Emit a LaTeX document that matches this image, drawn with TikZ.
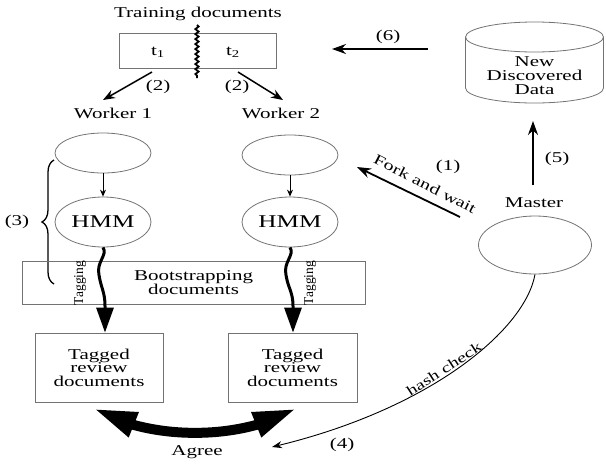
\documentclass[tikz,border=0pt]{standalone}
\usepackage{fontspec}
\setmainfont{Liberation Serif}[FakeStretch=1.4]
\newfontfamily\rotfont{Liberation Serif}
\usetikzlibrary{arrows.meta,bending,shapes.geometric,decorations.pathmorphing,decorations.pathreplacing}
\begin{document}
\begin{tikzpicture}[x=1pt,y=-1pt,
  box/.style={draw=black!55, line width=0.8pt, rectangle, inner sep=0pt, align=center, font=\fontsize{15}{13.5}\selectfont},
  oval/.style={draw=black!55, line width=0.8pt, ellipse, inner sep=0pt, minimum width=96pt, minimum height=40pt},
  lbl/.style={font=\fontsize{15}{14}\selectfont, inner sep=0pt},
  arr/.style={line width=1.8pt, -{Stealth[length=14pt,width=10pt]}},
  arrtwo/.style={line width=1.5pt, -{Stealth[length=12pt,width=9pt]}},
  arrsmall/.style={line width=0.9pt, -{Stealth[length=7pt,width=6pt]}},
  wavy/.style={line width=3pt, -{Triangle[length=25pt,width=17pt]}},
  rotlbl/.style={font=\rotfont\fontsize{13.5}{14}\selectfont, inner sep=0pt, rotate=90}
]
\useasboundingbox (0,0) rectangle (606,464);

% training documents
\node[lbl] (title) at (198,14) {Training documents};
\node[box, minimum width=157pt, minimum height=35pt] (train) at (197.5,50.5) {};
\node[lbl] (t1) at (158,52) {t\textsubscript{1}};
\node[lbl] (t2) at (233,52) {t\textsubscript{2}};
\draw[decorate, decoration={snake, segment length=5pt, amplitude=1.6pt}, line width=1.8pt] (197,25) -- (197,78);

% workers
\node[lbl] (w1) at (113,113) {Worker 1};
\node[lbl] (w2) at (281,113) {Worker 2};
\coordinate (a1s) at (152,72); \coordinate (a1e) at (103,100);
\coordinate (a2s) at (238,72); \coordinate (a2e) at (283,100);
\draw[arrtwo] (a1s) -- (a1e);
\draw[arrtwo] (a2s) -- (a2e);
\node[lbl] at (158,87) {(2)};
\node[lbl] at (237,87) {(2)};

\node[oval] (e1) at (103,153) {};
\node[oval] (e2) at (290,155) {};
\node[oval, minimum height=50pt, font=\fontsize{18}{18}\selectfont] (h1) at (103,222) {HMM};
\node[oval, minimum height=50pt, font=\fontsize{18}{18}\selectfont] (h2) at (290,222) {HMM};
\draw[arrsmall] (e1) -- (h1);
\draw[arrsmall] (e2) -- (h2);

% brace
\draw[decorate, decoration={brace, amplitude=12pt}, line width=1.3pt] (54,284) -- (54,160);
\node[lbl] at (17,222) {(3)};

% bootstrapping
\node[box, minimum width=343pt, minimum height=43pt] (boot) at (193.5,282.5) {Bootstrapping\\documents};

% tagged boxes
\node[box, minimum width=128pt, minimum height=69pt] (tg1) at (99,367.5) {Tagged\\review\\documents};
\node[box, minimum width=129pt, minimum height=69pt] (tg2) at (292.5,367.5) {Tagged\\review\\documents};

\draw[wavy] (h1.south) .. controls (108,255) and (96,262) .. (99,275) .. controls (101,288) and (105,292) .. (105,306) -- ([xshift=6pt]tg1.north);
\draw[wavy] (h2.south) .. controls (295,255) and (283,262) .. (286,275) .. controls (288,288) and (293,292) .. (293,306) -- ([xshift=0.5pt]tg2.north);
\node[rotlbl] at (80,283) {Tagging};
\node[rotlbl] at (310,283) {Tagging};

% agree
\node[lbl] (agree) at (197,452) {Agree};
\draw[line width=10pt, {Triangle[length=44pt,width=24pt]}-{Triangle[length=44pt,width=24pt]}]
  ([xshift=-6pt,yshift=-6pt]tg1.south) .. controls (150,441) and (240,441) .. ([xshift=4.5pt,yshift=-6pt]tg2.south);

% data cylinder
\node[minimum width=138pt, minimum height=81pt, inner sep=0pt] (data) at (534.5,62.5) {};
\draw[draw=black!55, line width=0.8pt] (534.5,37) ellipse [x radius=69, y radius=15];
\draw[draw=black!55, line width=0.8pt] (465.5,37) -- (465.5,88) .. controls (465.5,96.3) and (496.4,103) .. (534.5,103)
  .. controls (572.6,103) and (603.5,96.3) .. (603.5,88) -- (603.5,37);
\node[lbl, align=center, font=\fontsize{15}{14}\selectfont] at (534.5,76) {New\\Discovered\\Data};

% (6)
\coordinate (s6) at (428,49); \coordinate (e6) at (332,49);
\draw[arr] (s6) -- (e6);
\node[lbl] at (388,37) {(6)};

% master
\node[lbl] (mlabel) at (534,203) {Master};
\node[oval, minimum width=113pt, minimum height=58pt] (master) at (535,245) {};
\coordinate (m5) at (533,185); \coordinate (d5) at (533,121);
\draw[arr] (m5) -- (d5);
\node[lbl] at (557,159) {(5)};

% fork
\coordinate (fk) at (460,217); \coordinate (fe) at (357,167);
\draw[arr] (fk) -- (fe);
\node[lbl, rotate=-27, font=\fontsize{14.5}{14}\selectfont] at (425,184) {Fork and wait};
\node[lbl] at (448,167) {(1)};

% hash check
\coordinate (h4) at (272,447);
\draw[line width=0.9pt, -{Stealth[length=10pt,width=7pt]}] (master.south) .. controls (525,330) and (430,410) .. (h4);
\node[lbl, rotate=33, font=\fontsize{14}{14}\selectfont] at (444,369) {hash check};
\node[lbl] at (342,445) {(4)};
\end{tikzpicture}
\end{document}
